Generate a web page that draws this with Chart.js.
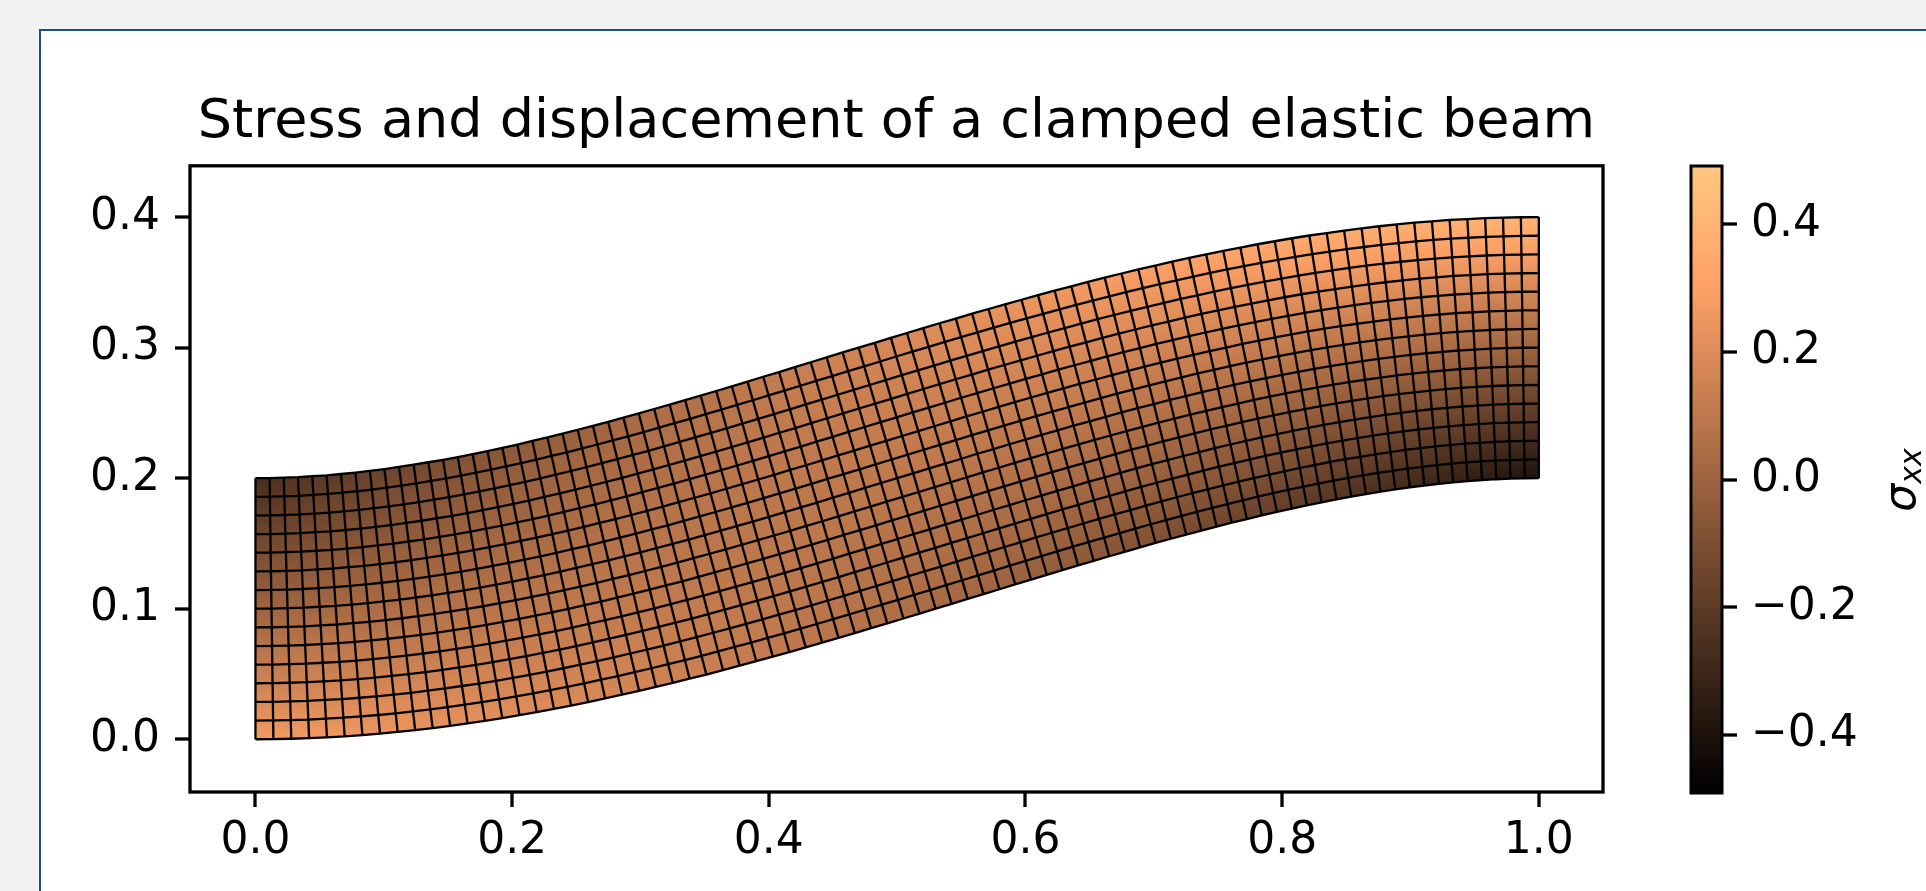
<!DOCTYPE html>
<html>
<head>
<meta charset="utf-8">
<script src="https://cdn.jsdelivr.net/npm/chart.js@4.4.1/dist/chart.umd.min.js"></script>
<style>
  html, body { margin: 0; padding: 0; }
  body { width: 1926px; height: 891px; overflow: hidden; position: relative; background: #f2f2f2; }
  #panel { position: absolute; left: 39px; top: 29px; width: 1960px; height: 940px; background: #ffffff; border: 2px solid #1d4f8c; }
  #mainWrap { position: absolute; left: 0; top: 0; width: 1660px; height: 891px; }
  #cbWrap { position: absolute; left: 1660px; top: 0; width: 266px; height: 891px; }
  canvas { display: block; }
</style>
</head>
<body>
<div id="panel"></div>
<div id="mainWrap"><canvas id="main" width="1660" height="891"></canvas></div>
<div id="cbWrap"><canvas id="cb" width="266" height="891"></canvas></div>
<script>
// ---------- data ----------
const chartTitle = 'Stress and displacement of a clamped elastic beam';
// undeformed mesh column positions (x) and row positions (y)
const xNodes = [0,0.0125,0.025,0.0375,0.05,0.0625,0.075,0.0875,0.1,0.1125,0.125,0.1375,0.15,0.1625,0.175,0.1875,0.2,0.2125,0.225,0.2375,0.25,0.2625,0.275,0.2875,0.3,0.3125,0.325,0.3375,0.35,0.3625,0.375,0.3875,0.4,0.4125,0.425,0.4375,0.45,0.4625,0.475,0.4875,0.5,0.5125,0.525,0.5375,0.55,0.5625,0.575,0.5875,0.6,0.6125,0.625,0.6375,0.65,0.6625,0.675,0.6875,0.7,0.7125,0.725,0.7375,0.75,0.7625,0.775,0.7875,0.8,0.8125,0.825,0.8375,0.85,0.8625,0.875,0.8875,0.9,0.9125,0.925,0.9375,0.95,0.9625,0.975,0.9875,1];
const rowY = [0,0.0143,0.0286,0.0429,0.0571,0.0714,0.0857,0.1,0.1143,0.1286,0.1429,0.1571,0.1714,0.1857,0.2];
// vertical deflection of each column
const deflection = [0,0.0001,0.0004,0.0008,0.0015,0.0022,0.0032,0.0043,0.0056,0.0070,0.0086,0.0103,0.0122,0.0141,0.0162,0.0185,0.0208,0.0233,0.0258,0.0285,0.0313,0.0341,0.0371,0.0401,0.0432,0.0464,0.0496,0.0530,0.0564,0.0598,0.0633,0.0668,0.0704,0.0740,0.0777,0.0813,0.0851,0.0888,0.0925,0.0963,0.1000,0.1037,0.1075,0.1112,0.1149,0.1187,0.1223,0.1260,0.1296,0.1332,0.1367,0.1402,0.1436,0.1470,0.1504,0.1536,0.1568,0.1599,0.1629,0.1659,0.1687,0.1715,0.1742,0.1767,0.1792,0.1815,0.1838,0.1859,0.1878,0.1897,0.1914,0.1930,0.1944,0.1957,0.1968,0.1978,0.1985,0.1992,0.1996,0.1999,0.2000];
// cross-section rotation (slope) of each column
const slope = [0,0.0148,0.0293,0.0433,0.0570,0.0703,0.0833,0.0958,0.1080,0.1198,0.1313,0.1423,0.1530,0.1633,0.1733,0.1828,0.1920,0.2008,0.2093,0.2173,0.2250,0.2323,0.2393,0.2458,0.2520,0.2578,0.2633,0.2683,0.2730,0.2773,0.2813,0.2848,0.2880,0.2908,0.2933,0.2953,0.2970,0.2983,0.2993,0.2998,0.3000,0.2998,0.2993,0.2983,0.2970,0.2953,0.2933,0.2908,0.2880,0.2848,0.2813,0.2773,0.2730,0.2683,0.2633,0.2578,0.2520,0.2458,0.2393,0.2323,0.2250,0.2173,0.2093,0.2008,0.1920,0.1828,0.1733,0.1633,0.1530,0.1423,0.1313,0.1198,0.1080,0.0958,0.0833,0.0703,0.0570,0.0433,0.0293,0.0148,0];
// sigma_xx: bending part at the top surface of each column, through-thickness factor of each row,
// and the mid-thickness (axial) part of each column
const topStress = [-0.270,-0.262,-0.253,-0.245,-0.237,-0.228,-0.220,-0.211,-0.203,-0.195,-0.186,-0.178,-0.170,-0.161,-0.153,-0.144,-0.136,-0.128,-0.119,-0.111,-0.103,-0.094,-0.086,-0.077,-0.069,-0.061,-0.052,-0.044,-0.036,-0.027,-0.019,-0.010,-0.002,0.006,0.015,0.023,0.032,0.040,0.048,0.057,0.065,0.073,0.082,0.090,0.099,0.107,0.115,0.124,0.132,0.140,0.149,0.157,0.166,0.174,0.182,0.191,0.199,0.207,0.216,0.224,0.233,0.241,0.249,0.258,0.266,0.274,0.283,0.291,0.300,0.308,0.316,0.325,0.333,0.341,0.350,0.358,0.367,0.375,0.383,0.392,0.400];
const rowEta = [-1,-0.857,-0.714,-0.571,-0.429,-0.286,-0.143,0,0.143,0.286,0.429,0.571,0.714,0.857,1];
const axialStress = [0,0.0049,0.0098,0.0144,0.0190,0.0234,0.0278,0.0319,0.0360,0.0399,0.0438,0.0474,0.0510,0.0544,0.0578,0.0609,0.0640,0.0669,0.0698,0.0724,0.0750,0.0774,0.0798,0.0819,0.0840,0.0859,0.0878,0.0894,0.0910,0.0924,0.0938,0.0949,0.0960,0.0969,0.0978,0.0984,0.0990,0.0994,0.0998,0.0999,0.1000,0.0999,0.0998,0.0994,0.0990,0.0984,0.0978,0.0969,0.0960,0.0949,0.0938,0.0924,0.0910,0.0894,0.0878,0.0859,0.0840,0.0819,0.0798,0.0774,0.0750,0.0724,0.0698,0.0669,0.0640,0.0609,0.0578,0.0544,0.0510,0.0474,0.0438,0.0399,0.0360,0.0319,0.0278,0.0234,0.0190,0.0144,0.0098,0.0049,0];
// axes
const xTicks = [0, 0.2, 0.4, 0.6, 0.8, 1.0];
const yTicks = [0, 0.1, 0.2, 0.3, 0.4];
const cbTicks = [-0.4, -0.2, 0, 0.2, 0.4];
const xRange = [-0.051, 1.050];
const yRange = [-0.0404, 0.4393];
const cbRange = [-0.491, 0.491];
const cbLabel = ['σ', 'xx'];

// ---------- helpers ----------
const FONT = "'DejaVu Sans', 'Liberation Sans', sans-serif";
const midRow = 0.1;
function node(i, j) {
  return { x: xNodes[i] - (rowY[j] - midRow) * slope[i], y: rowY[j] + deflection[i] };
}
function stress(i, j) { return axialStress[i] + topStress[i] * rowEta[j]; }
function copper(v) {
  let t = (v - cbRange[0]) / (cbRange[1] - cbRange[0]);
  t = Math.max(0, Math.min(1, t));
  const r = Math.min(1, t / 0.809524), g = 0.7812 * t, b = 0.4975 * t;
  return 'rgb(' + Math.round(r * 255) + ',' + Math.round(g * 255) + ',' + Math.round(b * 255) + ')';
}
function cellFill(chart, pts, sBot, sTop) {
  const area = chart.chartArea;
  if (!area || !chart.scales.x) return copper((sBot + sTop) / 2);
  const xs = chart.scales.x, ys = chart.scales.y;
  const bx = xs.getPixelForValue((pts[0].x + pts[1].x) / 2), by = ys.getPixelForValue((pts[0].y + pts[1].y) / 2);
  const tx = xs.getPixelForValue((pts[2].x + pts[3].x) / 2), ty = ys.getPixelForValue((pts[2].y + pts[3].y) / 2);
  const g = chart.ctx.createLinearGradient(bx, by, tx, ty);
  g.addColorStop(0, copper(sBot));
  g.addColorStop(1, copper(sTop));
  return g;
}

const nCols = xNodes.length, nRows = rowY.length;
const datasets = [];
// mesh lines (drawn on top)
for (let j = 0; j < nRows; j++) {
  const pts = [];
  for (let i = 0; i < nCols; i++) pts.push(node(i, j));
  datasets.push({ data: pts, showLine: true, fill: false, borderColor: '#000', borderWidth: 2.3, order: 0 });
}
for (let i = 0; i < nCols; i++) {
  datasets.push({ data: [node(i, 0), node(i, nRows - 1)], showLine: true, fill: false, borderColor: '#000', borderWidth: 2.3, order: 0 });
}
// coloured cells
for (let i = 0; i < nCols - 1; i++) {
  for (let j = 0; j < nRows - 1; j++) {
    const pts = [node(i, j), node(i + 1, j), node(i + 1, j + 1), node(i, j + 1)];
    const sBot = (stress(i, j) + stress(i + 1, j)) / 2;
    const sTop = (stress(i, j + 1) + stress(i + 1, j + 1)) / 2;
    datasets.push({
      data: pts, showLine: true, fill: 'shape', borderWidth: 0, borderColor: 'rgba(0,0,0,0)', order: 1,
      backgroundColor: (ctx) => cellFill(ctx.chart, pts, sBot, sTop)
    });
  }
}

const tickFont = { family: FONT, size: 44 };
function axisCommon(ticksArr, fmt, pad) {
  return {
    type: 'linear',
    afterBuildTicks: (s) => { s.ticks = ticksArr.map(v => ({ value: v })); },
    ticks: { callback: fmt, font: tickFont, color: '#000', padding: pad, autoSkip: false, maxRotation: 0, minRotation: 0 },
    grid: { display: true, drawOnChartArea: false, drawTicks: true, tickLength: 15, tickWidth: 3.3, tickColor: '#000', lineWidth: 0 },
    border: { display: false }
  };
}

const framePlugin = {
  id: 'frame',
  afterDraw(chart) {
    const a = chart.chartArea, c = chart.ctx;
    c.save(); c.strokeStyle = '#000'; c.lineWidth = 3.3;
    c.strokeRect(a.left, a.top, a.right - a.left, a.bottom - a.top);
    c.restore();
  }
};

new Chart(document.getElementById('main'), {
  type: 'scatter',
  data: { datasets },
  options: {
    responsive: false, animation: false, events: [], parsing: false, normalized: true,
    layout: { padding: { left: 40, right: 57, top: 0, bottom: 19 } },
    elements: { point: { radius: 0, hoverRadius: 0 }, line: { tension: 0 } },
    plugins: {
      legend: { display: false }, tooltip: { enabled: false },
      title: { display: true, text: chartTitle, fullSize: false, color: '#000', font: { family: FONT, size: 54, weight: 'normal' }, padding: { top: 91, bottom: 10 } }
    },
    scales: {
      x: Object.assign(axisCommon(xTicks, v => v.toFixed(1), 8), { min: xRange[0], max: xRange[1], afterFit: s => { s.height = 80; } }),
      y: Object.assign(axisCommon(yTicks, v => v.toFixed(1), 15), { min: yRange[0], max: yRange[1], afterFit: s => { s.width = 150; } })
    }
  },
  plugins: [framePlugin]
});

// ---------- colour bar ----------
const cbPlugin = {
  id: 'cbExtras',
  afterDraw(chart) {
    const a = chart.chartArea, c = chart.ctx;
    c.save(); c.strokeStyle = '#000'; c.lineWidth = 3;
    c.strokeRect(a.left, a.top, a.right - a.left, a.bottom - a.top);
    // label, rotated to read upwards
    c.translate(244, 480);
    c.rotate(-Math.PI / 2);
    c.fillStyle = '#000';
    c.textBaseline = 'alphabetic';
    c.textAlign = 'left';
    c.font = 'italic 44px ' + FONT;
    const w1 = c.measureText(cbLabel[0]).width;
    c.font = 'italic 30px ' + FONT;
    const w2 = c.measureText(cbLabel[1]).width;
    const x0 = -(w1 + w2) / 2;
    c.font = 'italic 44px ' + FONT;
    c.fillText(cbLabel[0], x0, 11);
    c.font = 'italic 30px ' + FONT;
    c.fillText(cbLabel[1], x0 + w1, 17);
    c.restore();
  }
};
function cbGradient(ctx) {
  const chart = ctx.chart;
  if (!chart.chartArea) return '#000';
  const y = chart.scales.y;
  const g = chart.ctx.createLinearGradient(0, y.getPixelForValue(cbRange[0]), 0, y.getPixelForValue(cbRange[1]));
  g.addColorStop(0, copper(cbRange[0]));
  g.addColorStop(0.809524, copper(cbRange[0] + 0.809524 * (cbRange[1] - cbRange[0])));
  g.addColorStop(1, copper(cbRange[1]));
  return g;
}
new Chart(document.getElementById('cb'), {
  type: 'bar',
  data: { labels: [''], datasets: [{ data: [cbRange], backgroundColor: cbGradient, borderWidth: 0, barPercentage: 1, categoryPercentage: 1 }] },
  options: {
    responsive: false, animation: false, events: [],
    layout: { padding: { left: 31, right: 0, top: 166, bottom: 98 } },
    plugins: { legend: { display: false }, tooltip: { enabled: false } },
    scales: {
      x: { display: false },
      y: Object.assign(axisCommon(cbTicks, v => (v < 0 ? '\u2212' : '') + Math.abs(v).toFixed(1), 14),
        { position: 'right', min: cbRange[0], max: cbRange[1], afterFit: s => { s.width = 204; } })
    }
  },
  plugins: [cbPlugin]
});
</script>
</body>
</html>
